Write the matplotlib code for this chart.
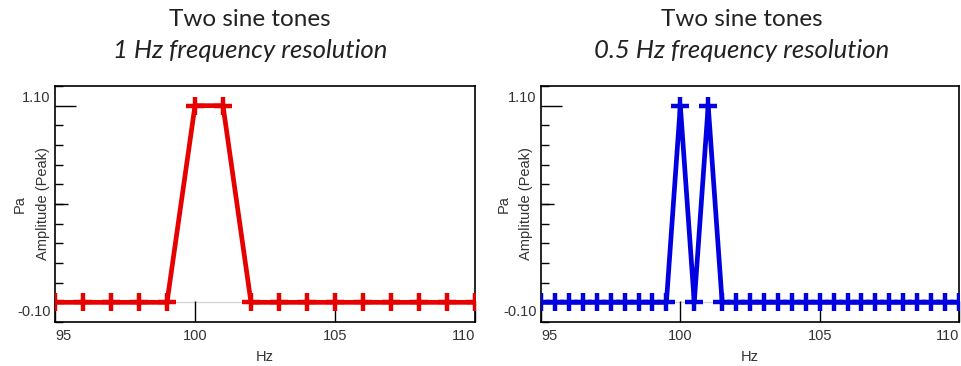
import matplotlib.pyplot as plt
from matplotlib.transforms import ScaledTranslation
from matplotlib.ticker import MultipleLocator

# spectrum with 1 Hz bins
freq_1hz = [95, 96, 97, 98, 99, 100, 101, 102, 103, 104, 105, 106, 107, 108, 109, 110]
amp_1hz = [0, 0, 0, 0, 0, 1.0, 1.0, 0, 0, 0, 0, 0, 0, 0, 0, 0]

# spectrum with 0.5 Hz bins
freq_05hz = [95, 95.5, 96, 96.5, 97, 97.5, 98, 98.5, 99, 99.5, 100, 100.5, 101, 101.5,
             102, 102.5, 103, 103.5, 104, 104.5, 105, 105.5, 106, 106.5, 107, 107.5,
             108, 108.5, 109, 109.5, 110]
amp_05hz = [0, 0, 0, 0, 0, 0, 0, 0, 0, 0, 1.0, 0, 1.0, 0,
            0, 0, 0, 0, 0, 0, 0, 0, 0, 0, 0, 0,
            0, 0, 0, 0, 0]

titles = ["1 Hz frequency resolution", "0.5 Hz frequency resolution"]
x_ticks = [95, 100, 105, 110]
y_limits = [-0.10, 1.10]

plt.rcParams['font.family'] = ['Liberation Sans', 'DejaVu Sans']

fig = plt.figure(figsize=(9.61, 3.66), dpi=100)
W, H = 961, 366
boxes = [(55, 86, 475, 322), (541, 86, 959, 322)]
series = [(freq_1hz, amp_1hz, '#e60000'), (freq_05hz, amp_05hz, '#0000e0')]
title_x = [250, 742]
label_x = [-0.012, -0.018]

for i in range(2):
    x0, y0, x1, y1 = boxes[i]
    ax = fig.add_axes([x0 / W, (H - y1) / H, (x1 - x0) / W, (y1 - y0) / H])
    fx, fy, col = series[i]

    ax.axhline(0, color='#d8d8d8', lw=1, zorder=1)
    ax.plot(fx, fy, color=col, lw=3.4, marker='+', ms=12.5, mew=3.2, zorder=3)

    ax.set_xlim(95, 110)
    ax.set_ylim(*y_limits)

    # x ticks: marks inward, end labels kept inside the frame
    ax.set_xticks(x_ticks)
    ax.set_xticklabels([str(t) for t in x_ticks])
    ax.tick_params(axis='x', direction='in', length=15, width=1, pad=5, labelsize=10.5,
                   labelcolor='#333333')
    labs = ax.get_xticklabels()
    labs[0].set_ha('left')
    labs[-1].set_ha('right')

    # y ticks: long at 0 and 1, short every 0.1, no labels
    ax.set_yticks([0, 1])
    ax.set_yticklabels([])
    ax.yaxis.set_minor_locator(MultipleLocator(0.1))
    ax.tick_params(axis='y', which='major', direction='in', length=15, width=1)
    ax.tick_params(axis='y', which='minor', direction='in', length=6, width=1)

    mid = ax.secondary_yaxis('left')
    mid.set_yticks([0.5])
    mid.set_yticklabels([])
    mid.tick_params(direction='in', length=9, width=1)
    mid.spines['left'].set_visible(False)

    # limit labels at the ends of the axis
    ends = ax.secondary_yaxis('left')
    ends.set_yticks(y_limits)
    ends.set_yticklabels(['%.2f' % v for v in y_limits])
    ends.tick_params(length=0, pad=3, labelsize=10.5, labelcolor='#333333')
    ends.spines['left'].set_visible(False)
    tl = ends.get_yticklabels()
    tl[0].set_transform(tl[0].get_transform() + ScaledTranslation(0, 11 / 100, fig.dpi_scale_trans))
    tl[1].set_transform(tl[1].get_transform() + ScaledTranslation(0, -10 / 100, fig.dpi_scale_trans))

    for s in ax.spines.values():
        s.set_linewidth(1.2)

    ax.set_xlabel('Hz', fontsize=10.5, labelpad=5, color='#333333')
    ax.set_ylabel('Pa\nAmplitude (Peak)', fontsize=10.5, linespacing=1.8, color='#333333')
    ax.yaxis.set_label_coords(label_x[i], 0.5)

    fig.text(title_x[i] / W, 1 - 20 / H, 'Two sine tones', ha='center', va='center',
             fontsize=17.5, color='#222222', family=['Lato', 'DejaVu Sans'])
    fig.text(title_x[i] / W, 1 - 51 / H, titles[i], ha='center', va='center',
             fontsize=18.5, style='italic', color='#222222', family=['Lato', 'DejaVu Sans'])

fig.savefig('out.png', dpi=100)
